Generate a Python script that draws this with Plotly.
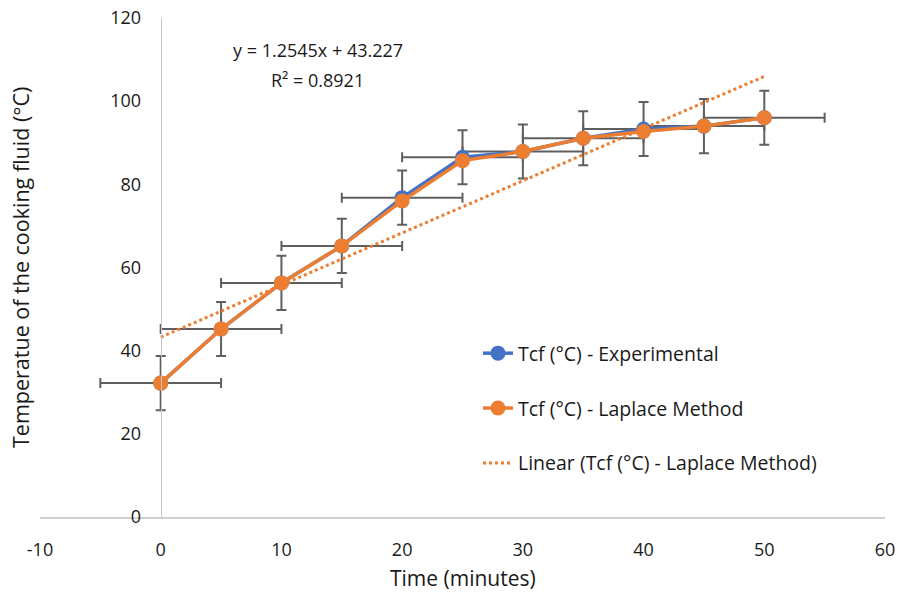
import plotly.graph_objects as go

time_min = [0, 5, 10, 15, 20, 25, 30, 35, 40, 45, 50]
tcf_experimental = [32.2, 45.2, 56.3, 65.2, 76.8, 86.5, 87.9, 91.1, 93.3, 94.0, 96.0]
tcf_laplace = [32.2, 45.2, 56.3, 65.2, 76.0, 85.7, 87.9, 91.1, 92.7, 94.0, 96.0]
x_err = [5] * 11
y_err = [6.5] * 11
slope, intercept, r2 = 1.2545, 43.227, 0.8921
trend_x = [0, 50]
trend_y = [slope * v + intercept for v in trend_x]

x_ticks = [-10, 0, 10, 20, 30, 40, 50, 60]
x_tick_text = ["-10", "0", "10", "20", "30", "40", "50", "60"]
y_ticks = [0, 20, 40, 60, 80, 100, 120]

BLUE = "#4472C4"
ORANGE = "#ED7D31"
ERR = "#5f5f5f"
FONT = "Open Sans"
TXT = "#1a1a1a"

fig = go.Figure()
fig.add_trace(go.Scatter(
    x=time_min, y=tcf_experimental, mode="lines+markers",
    name="Tcf (°C) - Experimental", legendgroup="a",
    line=dict(color=BLUE, width=3.5), marker=dict(color=BLUE, size=15),
    error_x=dict(type="data", array=x_err, color=ERR, thickness=2, width=5),
    error_y=dict(type="data", array=y_err, color=ERR, thickness=2, width=5),
))
fig.add_trace(go.Scatter(
    x=time_min, y=tcf_laplace, mode="lines+markers",
    name="Tcf (°C) - Laplace Method", legendgroup="b",
    line=dict(color=ORANGE, width=3.5), marker=dict(color=ORANGE, size=15),
))
fig.add_trace(go.Scatter(
    x=trend_x, y=trend_y, mode="lines",
    name="Linear (Tcf (°C) - Laplace Method)", legendgroup="c",
    line=dict(color=ORANGE, width=3, dash="dot"),
))

L, R, T, B = 40, 19, 18, 80
W, H = 904, 597
PW = W - L - R
PH = H - T - B
fig.update_layout(
    width=W, height=H,
    margin=dict(l=L, r=R, t=T, b=B, autoexpand=False),
    paper_bgcolor="white", plot_bgcolor="white",
    font=dict(family=FONT, size=18, color=TXT),
    showlegend=True,
    legend=dict(x=(478 - L) / PW, y=(517 - 334) / PH, xanchor="left", yanchor="top",
                traceorder="grouped", tracegroupgap=26.5,
                bgcolor="rgba(0,0,0,0)", font=dict(family=FONT, size=19.5, color=TXT)),
    xaxis=dict(range=[-10, 60], tickvals=x_ticks, ticktext=x_tick_text,
               showgrid=False, zeroline=False, automargin=False,
               showline=True, linecolor="#d0d0d0", linewidth=2,
               ticks="outside", ticklen=15, tickcolor="rgba(0,0,0,0)",
               domain=[0, 1], anchor="y"),
    yaxis=dict(range=[0, 120], tickvals=y_ticks, showgrid=False, zeroline=False,
               automargin=False,
               showline=True, linecolor="#c8c8c8", linewidth=1,
               ticks="outside", ticklen=16, tickcolor="rgba(0,0,0,0)",
               anchor="free", position=10 / 70),
    annotations=[
        dict(text="Temperatue of the cooking fluid (°C)", textangle=-90,
             xref="paper", yref="paper", x=-20 / PW, y=(517 - 268) / PH,
             xanchor="center", yanchor="middle", showarrow=False,
             font=dict(family=FONT, size=21.5, color=TXT)),
        dict(text="Time (minutes)", xref="paper", yref="paper", x=0.5, y=0,
             yshift=-61, xanchor="center", yanchor="middle", showarrow=False,
             font=dict(family=FONT, size=21, color=TXT)),
        dict(text=f"y = {slope}x + {intercept}", xref="x", yref="y",
             x=13, y=112.3, xanchor="center", yanchor="middle", showarrow=False,
             font=dict(family=FONT, size=18, color=TXT)),
        dict(text=f"R² = {r2}", xref="x", yref="y",
             x=13, y=105.1, xanchor="center", yanchor="middle", showarrow=False,
             font=dict(family=FONT, size=18, color=TXT)),
    ],
)
fig.write_html("out.html")
